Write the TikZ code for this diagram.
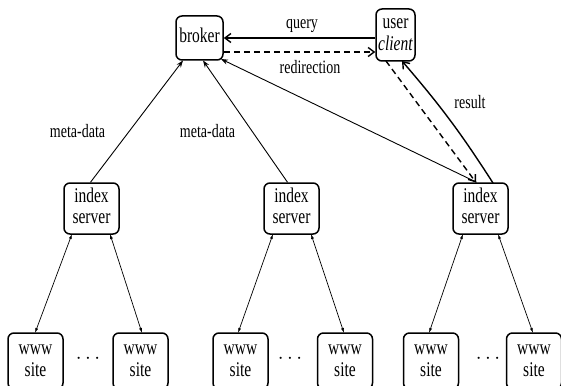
\documentclass[tikz,border=0pt]{standalone}
\usepackage{graphicx}
\usepackage{fontspec}
\setmainfont{Liberation Serif}
\usetikzlibrary{arrows.meta}
\newcommand\vstr[1]{\scalebox{1}[1.35]{\begin{tabular}{@{}c@{}}#1\end{tabular}}}
\begin{document}
\begin{tikzpicture}[x=1pt,y=-1pt,
  box/.style={draw,line width=1.5pt,rounded corners=6pt,inner sep=0pt,align=center,
    font=\fontsize{15.5}{16}\selectfont},
  lbl/.style={font=\fontsize{14}{16}\selectfont,inner sep=0pt},
  dots/.style={font=\fontsize{22}{22}\selectfont,inner sep=0pt},
  meta/.style={line width=0.9pt,-{Stealth[length=7pt,width=5pt]}},
  link/.style={line width=0.7pt,{Latex[length=5pt,width=3pt]}-{Latex[length=5pt,width=3pt]}},
  msg/.style={line width=1.4pt,-{Straight Barb[length=6pt,width=9pt]}},
  dmsg/.style={line width=1.4pt,dash pattern=on 6pt off 4pt,-{Straight Barb[length=6pt,width=9pt]}}]
\clip (0,0) rectangle (561,385);
\useasboundingbox (0,0) rectangle (561,385);
\node[box,minimum width=47pt,minimum height=44pt] (broker) at (199.5,38) {\vstr{broker}};
\node[box,minimum width=39pt,minimum height=52pt] (user) at (395.5,35) {\vstr{user\\\textit{client}}};
\node[box,minimum width=55pt,minimum height=51pt] (i1) at (91.5,208.5) {\vstr{index\\server}};
\node[box,minimum width=55pt,minimum height=51pt] (i2) at (291.5,208.5) {\vstr{index\\server}};
\node[box,minimum width=55pt,minimum height=51pt] (i3) at (480.5,208.5) {\vstr{index\\server}};
\foreach \n/\x in {w1/35.5,w2/140.5,w3/240.5,w4/345,w5/431,w6/534}
  \node[box,minimum width=55pt,minimum height=56pt] (\n) at (\x,361) {\vstr{www\\site}};
\node[dots] (d1) at (88,359) {$\cdots$};
\node[dots] (d2) at (290,359) {$\cdots$};
\node[dots] (d3) at (488,359) {$\cdots$};
% meta-data
\draw[meta] (i1.north) ++(-1,0) coordinate (a1) -- (183,60.5) coordinate (b1);
\draw[meta] (i2.north) ++(-4,0) coordinate (a2) -- (203,60.5) coordinate (b2);
\draw[meta] (i3.north) ++(-4,0) coordinate (a3) -- (221,59) coordinate (b3);
\node[lbl] (m1) at (77.5,133) {\vstr{meta-data}};
\node[lbl] (m2) at (207.5,133) {\vstr{meta-data}};
% query / redirection
\draw[msg] (user.west |- 0,38) coordinate (q1) -- (broker.east |- 0,38) coordinate (q2);
\draw[dmsg] (broker.east |- 0,52) coordinate (r1) -- (user.west |- 0,52) coordinate (r2);
\node[lbl] (ql) at (302,24) {\vstr{query}};
\node[lbl] (rl) at (310,69) {\vstr{redirection}};
% user <-> index
\draw[dmsg] (386,61) coordinate (u1) -- (476,182.5) coordinate (u2);
\draw[line width=1.4pt,-{Straight Barb[length=6pt,width=9pt]}] (493,183) coordinate (v1) to[bend right=4] (402,61) coordinate (v2);
\node[lbl] (res) at (470,104) {\vstr{result}};
% index <-> www
\draw[link] (72,234) -- (35,333);
\draw[link] (110,234) -- (142,333);
\draw[link] (273,234) -- (238,333);
\draw[link] (311,234) -- (344,333);
\draw[link] (463,234) -- (429,333);
\draw[link] (498,234) -- (533,333);
\end{tikzpicture}
\end{document}
